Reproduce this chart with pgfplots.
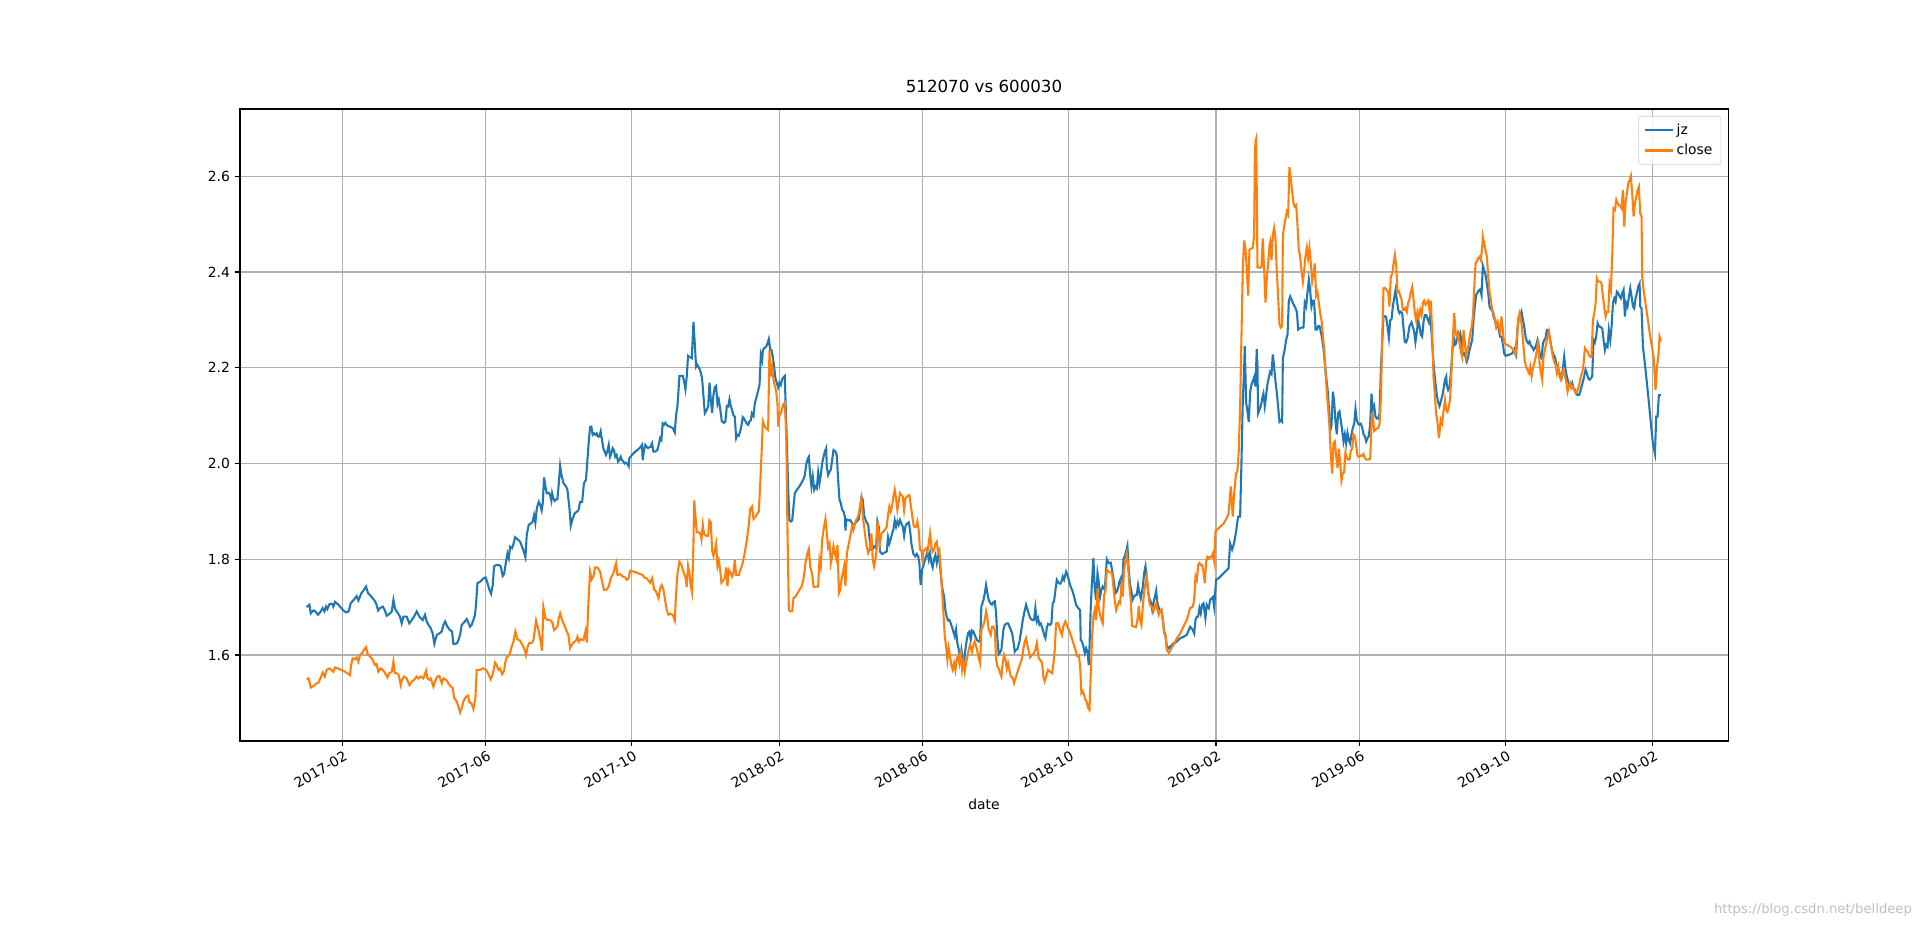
\documentclass[border=0pt]{standalone}
\usepackage{fontspec}
\setmainfont{DejaVu Sans}
\usepackage{pgfplots}
\pgfplotsset{compat=1.18}
\definecolor{mplblue}{HTML}{1F77B4}
\definecolor{mplorange}{HTML}{FF7F0E}
\definecolor{mplgrid}{HTML}{B0B0B0}

% x = days since 2017-01-01
\pgfplotstableread{
day jz
1.2 1.700
3.5 1.705
4.6 1.687
6.8 1.693
8.5 1.691
10.7 1.684
13.0 1.691
14.6 1.698
16.0 1.691
17.4 1.701
18.5 1.696
20.2 1.706
22.4 1.707
23.5 1.701
24.9 1.711
27.7 1.705
31.9 1.693
34.1 1.689
36.3 1.691
38.0 1.708
40.8 1.716
43.0 1.723
44.4 1.714
46.9 1.729
49.1 1.736
50.8 1.743
52.5 1.729
54.2 1.725
57.5 1.715
59.2 1.708
60.9 1.693
62.5 1.698
64.8 1.701
66.4 1.694
68.1 1.682
70.9 1.687
72.3 1.691
73.7 1.715
75.1 1.696
77.0 1.689
79.2 1.680
80.6 1.666
82.0 1.680
84.8 1.680
87.0 1.666
89.0 1.673
90.9 1.680
93.2 1.691
95.4 1.680
98.2 1.673
100.1 1.684
101.5 1.670
102.9 1.663
104.9 1.656
106.5 1.645
107.9 1.623
109.9 1.642
112.1 1.645
114.1 1.649
115.5 1.663
116.9 1.670
118.8 1.659
121.0 1.652
122.7 1.649
123.8 1.623
126.6 1.624
128.0 1.631
129.4 1.642
130.8 1.663
132.7 1.668
135.0 1.675
137.7 1.659
139.1 1.663
140.5 1.673
141.9 1.684
142.8 1.708
143.9 1.750
146.1 1.753
148.9 1.760
150.8 1.762
152.2 1.751
153.9 1.736
155.3 1.728
156.7 1.746
157.8 1.785
159.5 1.788
161.7 1.788
163.4 1.785
165.0 1.765
166.2 1.769
167.8 1.795
169.0 1.812
170.1 1.802
171.2 1.826
172.8 1.823
174.0 1.832
175.4 1.846
177.3 1.842
179.5 1.837
181.2 1.826
182.3 1.819
184.0 1.804
185.1 1.851
186.8 1.872
188.4 1.874
190.1 1.879
191.2 1.892
192.3 1.876
193.5 1.906
195.1 1.920
196.2 1.915
197.6 1.902
198.5 1.918
199.6 1.971
200.7 1.952
201.8 1.938
203.5 1.939
204.6 1.934
205.7 1.922
206.3 1.938
207.4 1.927
208.5 1.922
209.6 1.925
210.7 1.925
211.9 1.959
213.0 1.995
214.1 1.976
215.8 1.959
218.0 1.952
219.1 1.945
220.8 1.906
221.9 1.870
223.6 1.886
225.2 1.896
226.9 1.899
228.3 1.902
229.7 1.920
231.4 1.920
232.9 1.959
234.6 1.966
235.7 2.004
236.8 2.042
238.0 2.076
239.1 2.077
240.2 2.060
241.3 2.063
242.4 2.060
243.5 2.063
244.6 2.056
245.8 2.056
246.9 2.067
248.0 2.049
249.1 2.032
250.2 2.025
251.3 2.018
252.4 2.025
253.6 2.039
254.7 2.014
255.8 2.021
256.9 2.032
258.0 2.028
259.1 2.014
260.2 2.018
261.4 2.004
262.5 2.007
263.6 2.014
264.7 2.007
265.8 2.004
266.9 2.000
268.0 2.002
269.2 1.999
270.3 1.994
270.8 2.011
271.9 2.014
273.1 2.018
274.2 2.021
275.8 2.025
277.5 2.028
279.2 2.032
280.3 2.035
281.4 2.039
282.0 2.007
283.1 2.028
284.2 2.039
285.3 2.035
286.4 2.032
287.5 2.034
288.7 2.035
289.8 2.042
290.9 2.025
292.6 2.025
294.2 2.028
295.4 2.039
296.5 2.053
297.6 2.049
298.7 2.084
299.8 2.081
300.9 2.085
302.0 2.081
303.2 2.078
304.9 2.077
307.1 2.074
308.8 2.065
309.9 2.101
311.0 2.119
312.7 2.183
315.5 2.183
316.6 2.171
317.7 2.155
318.8 2.182
319.9 2.225
321.6 2.222
323.0 2.220
324.4 2.296
325.5 2.251
326.6 2.202
327.7 2.206
330.0 2.195
331.6 2.178
332.8 2.140
333.9 2.105
335.5 2.112
336.7 2.119
337.8 2.169
338.9 2.133
340.0 2.106
341.1 2.143
342.2 2.159
343.3 2.162
344.5 2.124
345.6 2.133
346.7 2.115
348.1 2.088
350.0 2.085
351.1 2.088
352.3 2.120
353.4 2.119
354.5 2.134
355.6 2.120
356.7 2.112
357.8 2.101
358.9 2.098
360.1 2.053
361.2 2.060
362.3 2.058
363.4 2.067
364.5 2.079
365.6 2.097
366.7 2.094
367.9 2.088
369.0 2.083
370.1 2.081
371.2 2.088
372.3 2.090
373.2 2.105
374.6 2.099
375.7 2.126
376.8 2.136
377.9 2.147
379.6 2.164
380.7 2.227
381.8 2.216
382.4 2.237
383.5 2.241
385.1 2.244
386.3 2.251
387.4 2.260
388.5 2.237
389.6 2.237
390.7 2.223
391.8 2.202
392.9 2.178
394.1 2.168
395.2 2.159
396.3 2.169
397.4 2.164
398.5 2.176
399.6 2.180
400.7 2.183
401.3 2.133
402.4 2.049
403.5 1.952
404.6 1.882
405.8 1.879
406.9 1.881
408.0 1.910
409.1 1.938
410.8 1.945
412.4 1.950
413.6 1.955
415.2 1.962
416.3 1.967
417.5 1.976
418.6 1.997
419.7 2.009
420.8 2.014
421.9 1.978
423.0 1.952
424.1 1.973
425.3 1.945
426.4 1.952
427.5 1.948
428.6 1.981
429.7 1.959
430.8 1.976
431.9 2.000
433.1 2.014
434.2 2.025
435.3 2.032
435.8 1.994
436.9 1.976
438.1 1.983
439.2 1.987
440.3 2.008
441.4 2.028
443.1 2.025
444.2 2.016
445.3 1.966
446.4 1.925
447.5 1.917
448.7 1.903
449.8 1.900
450.9 1.889
451.4 1.860
452.0 1.884
453.7 1.881
455.3 1.882
457.0 1.875
458.1 1.863
459.2 1.874
460.9 1.879
462.6 1.884
463.7 1.907
464.8 1.930
465.9 1.924
467.0 1.891
468.7 1.879
470.4 1.872
472.5 1.820
474.2 1.821
475.3 1.827
477.0 1.823
478.1 1.879
479.2 1.868
480.3 1.816
482.0 1.811
484.2 1.814
485.9 1.816
487.0 1.846
488.1 1.833
489.2 1.842
490.3 1.853
491.5 1.863
492.6 1.881
493.7 1.868
494.8 1.879
495.9 1.872
497.0 1.882
498.1 1.875
499.3 1.868
500.4 1.849
501.5 1.868
502.6 1.874
504.3 1.877
505.4 1.861
506.5 1.833
508.2 1.811
509.8 1.806
511.0 1.811
512.1 1.807
513.2 1.792
513.7 1.765
514.3 1.746
515.4 1.778
516.5 1.786
518.2 1.802
519.9 1.814
521.0 1.799
522.1 1.813
523.2 1.792
524.3 1.783
525.4 1.800
526.6 1.809
527.7 1.792
528.8 1.806
529.9 1.799
531.0 1.771
532.1 1.743
533.8 1.722
534.9 1.694
536.0 1.680
537.2 1.672
538.3 1.673
539.4 1.666
541.1 1.653
542.7 1.639
543.8 1.653
544.9 1.625
546.1 1.611
547.2 1.593
548.3 1.611
549.4 1.590
550.5 1.584
551.6 1.611
552.8 1.632
553.9 1.646
555.0 1.649
556.1 1.632
557.2 1.651
558.3 1.649
559.4 1.642
561.1 1.632
562.8 1.628
563.9 1.628
565.0 1.701
566.7 1.715
567.8 1.728
568.9 1.746
570.0 1.729
571.1 1.715
572.8 1.707
573.9 1.705
575.0 1.710
576.2 1.712
577.3 1.687
578.4 1.632
579.5 1.602
580.6 1.605
581.7 1.611
583.4 1.653
584.5 1.663
586.2 1.666
587.3 1.666
589.0 1.656
590.6 1.646
591.8 1.628
592.9 1.607
594.0 1.611
595.1 1.612
596.8 1.628
598.4 1.653
599.6 1.673
600.7 1.687
602.3 1.705
604.0 1.691
605.7 1.677
607.4 1.673
609.0 1.673
610.1 1.698
611.3 1.670
612.4 1.677
613.5 1.663
614.6 1.666
616.3 1.653
617.4 1.642
618.5 1.635
619.6 1.656
620.7 1.665
622.4 1.663
623.5 1.666
624.6 1.708
625.7 1.712
626.9 1.736
628.0 1.757
629.7 1.750
630.8 1.749
631.9 1.753
633.0 1.764
634.1 1.757
635.8 1.774
636.9 1.767
638.0 1.757
639.1 1.746
640.8 1.736
642.5 1.722
644.1 1.705
645.8 1.698
647.5 1.694
648.0 1.631
649.1 1.628
650.3 1.617
651.4 1.604
652.5 1.614
653.6 1.607
654.7 1.579
655.3 1.614
656.4 1.701
657.5 1.757
658.6 1.802
659.7 1.739
660.9 1.715
662.0 1.771
663.1 1.753
664.2 1.722
665.3 1.736
666.4 1.743
668.1 1.736
669.8 1.800
671.4 1.792
673.1 1.793
674.2 1.778
675.3 1.760
677.0 1.729
678.1 1.732
679.2 1.739
680.3 1.753
681.5 1.760
682.6 1.732
683.7 1.800
684.8 1.807
685.9 1.816
687.0 1.828
688.1 1.778
689.3 1.746
690.4 1.732
691.5 1.716
692.6 1.722
693.7 1.725
694.8 1.725
695.9 1.746
697.1 1.729
698.2 1.718
699.9 1.743
701.0 1.771
702.1 1.785
703.2 1.760
704.3 1.732
705.4 1.718
706.5 1.711
707.7 1.694
708.8 1.709
709.9 1.721
711.0 1.734
712.1 1.708
713.2 1.698
714.3 1.693
715.5 1.694
716.6 1.673
717.7 1.649
718.8 1.642
719.9 1.619
721.6 1.614
723.3 1.619
725.5 1.624
728.3 1.628
731.1 1.635
733.8 1.638
736.6 1.642
739.4 1.659
740.5 1.656
741.6 1.652
742.8 1.645
743.9 1.673
745.0 1.680
746.1 1.680
747.2 1.698
748.3 1.687
749.4 1.705
750.6 1.708
752.2 1.677
753.3 1.705
755.0 1.698
756.1 1.715
757.2 1.718
758.4 1.721
759.5 1.701
760.0 1.718
761.1 1.757
763.1 1.760
765.9 1.767
768.7 1.774
771.5 1.781
772.8 1.833
774.5 1.820
776.2 1.834
777.8 1.858
779.5 1.889
781.2 1.889
782.3 2.001
783.4 2.128
784.5 2.195
785.1 2.245
786.2 2.128
787.3 2.109
788.4 2.087
789.6 2.150
790.7 2.165
791.8 2.172
792.9 2.180
794.0 2.161
795.1 2.239
795.7 2.202
796.2 2.105
797.4 2.113
798.5 2.120
799.6 2.135
800.7 2.146
801.8 2.120
802.9 2.142
804.0 2.165
805.2 2.180
806.3 2.191
807.4 2.187
808.5 2.228
809.6 2.202
810.7 2.172
811.8 2.150
812.9 2.120
814.1 2.087
815.2 2.090
816.3 2.087
816.9 2.220
818.5 2.239
819.6 2.258
820.8 2.269
821.9 2.340
823.0 2.349
824.1 2.343
825.2 2.336
826.3 2.330
827.4 2.325
828.6 2.317
829.7 2.280
830.8 2.282
832.5 2.284
834.1 2.284
835.2 2.336
836.4 2.328
837.5 2.358
838.6 2.384
839.7 2.362
840.8 2.328
841.9 2.340
843.0 2.340
844.2 2.280
845.3 2.280
846.4 2.287
847.5 2.287
848.6 2.276
849.7 2.261
850.9 2.239
852.0 2.209
853.1 2.180
854.2 2.157
855.3 2.120
856.4 2.068
857.5 2.079
858.7 2.150
859.8 2.128
860.9 2.087
862.0 2.061
863.1 2.105
864.2 2.109
865.3 2.090
866.5 2.068
867.6 2.046
868.7 2.061
869.8 2.042
870.9 2.064
872.0 2.049
873.1 2.042
874.3 2.061
875.4 2.075
876.5 2.083
877.6 2.114
878.7 2.090
879.8 2.083
880.9 2.081
882.1 2.083
883.2 2.075
884.3 2.061
885.4 2.057
886.5 2.046
887.6 2.053
888.7 2.057
889.9 2.083
891.0 2.146
892.1 2.113
893.2 2.120
894.3 2.098
895.4 2.094
896.5 2.094
897.7 2.105
898.8 2.195
899.9 2.254
901.0 2.308
902.1 2.308
903.2 2.306
904.3 2.287
905.5 2.263
906.6 2.299
907.7 2.302
908.8 2.328
909.9 2.345
911.0 2.362
912.1 2.343
913.3 2.321
914.4 2.314
915.5 2.317
916.6 2.314
917.7 2.284
918.8 2.254
919.9 2.253
921.1 2.261
922.7 2.287
924.4 2.295
925.5 2.285
926.6 2.276
927.7 2.254
928.9 2.276
930.0 2.299
931.1 2.287
932.2 2.269
933.3 2.265
934.4 2.295
935.5 2.310
936.7 2.310
937.8 2.302
938.9 2.295
940.0 2.308
941.1 2.273
942.2 2.232
943.3 2.195
944.5 2.165
945.6 2.142
946.7 2.128
947.8 2.120
950.0 2.140
951.1 2.154
952.3 2.175
953.4 2.182
953.9 2.164
955.0 2.154
956.2 2.161
957.3 2.189
958.4 2.230
959.5 2.265
960.6 2.248
961.7 2.251
962.8 2.272
964.0 2.265
965.1 2.272
966.2 2.251
967.3 2.227
968.4 2.230
969.5 2.223
970.6 2.213
971.8 2.223
972.9 2.237
974.0 2.248
975.1 2.258
976.2 2.300
977.3 2.328
978.4 2.352
979.6 2.357
980.7 2.362
981.8 2.364
982.9 2.352
984.0 2.413
985.1 2.404
986.2 2.394
987.4 2.376
988.5 2.356
989.6 2.328
990.7 2.322
991.8 2.321
992.9 2.307
994.0 2.300
995.2 2.286
996.3 2.293
997.4 2.279
998.5 2.265
999.6 2.265
1000.7 2.251
1001.8 2.230
1003.0 2.225
1005.7 2.227
1008.5 2.230
1010.8 2.241
1011.9 2.230
1013.0 2.279
1014.1 2.307
1015.2 2.308
1016.3 2.317
1017.5 2.300
1018.6 2.286
1019.7 2.265
1020.8 2.255
1021.9 2.251
1023.0 2.255
1024.1 2.246
1025.3 2.244
1026.4 2.237
1027.5 2.241
1028.6 2.248
1029.7 2.258
1030.8 2.244
1031.9 2.223
1033.1 2.220
1034.2 2.251
1035.3 2.258
1036.4 2.262
1037.5 2.279
1038.6 2.279
1039.7 2.265
1040.9 2.248
1042.0 2.234
1043.1 2.227
1044.2 2.223
1045.3 2.209
1046.4 2.199
1047.5 2.196
1048.7 2.182
1049.8 2.178
1050.9 2.199
1052.0 2.223
1053.1 2.196
1054.2 2.182
1055.3 2.171
1056.5 2.164
1057.6 2.161
1058.7 2.168
1059.8 2.157
1060.9 2.154
1062.0 2.147
1063.1 2.143
1064.3 2.143
1065.4 2.150
1066.5 2.161
1067.6 2.171
1068.7 2.182
1069.8 2.196
1070.9 2.189
1072.1 2.178
1073.2 2.175
1074.3 2.178
1075.4 2.182
1076.5 2.258
1077.6 2.253
1078.7 2.265
1079.9 2.293
1081.0 2.286
1082.1 2.286
1083.8 2.282
1084.9 2.258
1086.0 2.237
1087.1 2.248
1088.2 2.244
1089.3 2.279
1090.5 2.258
1091.6 2.286
1092.7 2.335
1093.8 2.345
1094.9 2.338
1096.0 2.359
1097.1 2.356
1098.3 2.349
1099.4 2.345
1100.5 2.356
1101.6 2.363
1102.7 2.307
1103.8 2.335
1104.9 2.328
1106.1 2.349
1107.2 2.366
1108.3 2.349
1109.4 2.328
1110.5 2.324
1111.6 2.345
1112.7 2.356
1113.9 2.370
1115.0 2.376
1115.5 2.328
1116.6 2.324
1117.8 2.244
1119.4 2.209
1121.1 2.168
1122.8 2.126
1124.4 2.084
1126.1 2.042
1127.8 2.021
1128.9 2.098
1130.0 2.098
1131.1 2.143
1132.8 2.143
}\jzdata

\pgfplotstableread{
day close
1.2 1.549
2.9 1.551
4.6 1.532
6.8 1.535
9.0 1.540
11.0 1.542
13.0 1.553
14.6 1.563
16.3 1.555
18.0 1.569
20.2 1.572
21.8 1.569
23.5 1.565
24.9 1.574
29.1 1.570
33.3 1.565
37.4 1.558
38.3 1.579
39.7 1.593
41.6 1.591
43.0 1.595
44.4 1.586
45.8 1.600
48.0 1.605
49.1 1.611
50.8 1.616
52.2 1.602
54.2 1.597
56.4 1.590
58.1 1.579
59.7 1.581
61.1 1.565
63.1 1.572
64.8 1.569
66.7 1.562
68.7 1.553
70.3 1.562
72.3 1.565
73.7 1.586
74.8 1.562
76.4 1.562
78.1 1.558
79.8 1.537
80.9 1.548
82.6 1.555
84.8 1.551
87.0 1.537
89.0 1.544
90.9 1.548
93.2 1.555
94.6 1.551
96.5 1.555
98.7 1.551
101.0 1.567
102.1 1.551
103.8 1.548
104.9 1.551
107.1 1.534
108.8 1.547
110.4 1.555
112.1 1.556
114.1 1.541
115.5 1.551
117.7 1.548
119.6 1.541
121.6 1.534
123.3 1.531
124.4 1.510
126.6 1.503
128.0 1.492
129.4 1.480
131.1 1.492
132.2 1.503
134.4 1.513
136.1 1.515
137.2 1.501
138.9 1.499
140.5 1.487
142.2 1.510
143.3 1.569
146.1 1.569
148.3 1.572
151.1 1.569
153.1 1.560
155.0 1.549
156.7 1.560
158.6 1.584
160.0 1.579
161.4 1.569
162.8 1.572
164.5 1.560
166.2 1.567
167.0 1.583
168.4 1.595
170.6 1.600
172.6 1.618
174.0 1.628
175.6 1.649
177.3 1.633
179.5 1.630
181.8 1.619
183.7 1.609
184.5 1.600
185.9 1.618
187.3 1.625
189.3 1.625
190.7 1.631
192.9 1.672
194.9 1.652
196.8 1.628
197.9 1.609
199.0 1.700
200.7 1.677
202.4 1.673
204.0 1.673
205.7 1.671
206.8 1.665
207.9 1.652
209.6 1.656
210.7 1.659
211.9 1.677
213.0 1.687
214.4 1.675
215.8 1.666
217.1 1.659
218.5 1.649
219.9 1.642
221.3 1.614
222.7 1.621
224.1 1.626
226.3 1.630
227.5 1.638
228.6 1.628
230.2 1.633
232.5 1.631
234.1 1.649
235.3 1.626
236.6 1.708
238.0 1.774
239.4 1.758
240.8 1.764
242.2 1.783
244.2 1.783
246.4 1.774
248.1 1.753
249.7 1.736
252.0 1.737
253.6 1.743
255.3 1.760
257.5 1.771
259.8 1.792
260.9 1.767
263.1 1.769
265.3 1.764
267.3 1.762
268.7 1.757
270.1 1.760
271.5 1.776
274.3 1.774
277.0 1.772
279.8 1.769
282.1 1.767
283.2 1.762
285.4 1.760
288.2 1.751
289.9 1.760
291.5 1.737
293.2 1.732
295.2 1.719
296.5 1.739
297.9 1.746
299.3 1.737
300.7 1.715
302.1 1.694
303.5 1.684
304.9 1.686
307.1 1.684
308.8 1.672
309.9 1.729
311.0 1.769
312.7 1.795
314.4 1.788
316.0 1.774
317.7 1.763
318.8 1.742
319.9 1.786
321.1 1.771
322.2 1.744
323.3 1.730
324.4 1.833
325.0 1.923
326.1 1.889
327.2 1.856
329.4 1.856
330.5 1.851
331.1 1.842
332.2 1.872
333.3 1.853
335.0 1.849
336.7 1.849
337.8 1.881
338.9 1.877
340.0 1.818
341.1 1.807
342.2 1.818
343.3 1.832
344.5 1.785
345.6 1.797
346.7 1.778
347.8 1.751
349.5 1.757
350.6 1.760
351.7 1.783
352.8 1.744
353.9 1.778
355.0 1.774
356.7 1.764
357.8 1.771
358.9 1.799
360.1 1.767
362.3 1.767
363.4 1.776
365.1 1.788
366.7 1.806
367.9 1.823
369.0 1.840
370.7 1.874
371.8 1.905
373.4 1.910
374.6 1.884
376.2 1.889
377.9 1.896
379.0 1.900
380.1 1.952
381.2 2.014
382.4 2.088
384.0 2.077
385.7 2.072
386.8 2.070
387.9 2.237
389.0 2.182
390.2 2.202
391.3 2.175
392.4 2.162
393.5 2.152
394.6 2.126
395.2 2.077
396.3 2.101
397.4 2.105
398.5 2.115
399.6 2.124
400.7 2.127
401.9 2.063
403.0 1.854
404.1 1.694
405.2 1.691
406.9 1.691
408.0 1.719
409.7 1.722
411.3 1.729
413.0 1.736
414.7 1.743
416.3 1.757
418.0 1.792
419.7 1.813
420.8 1.821
421.9 1.785
423.6 1.769
424.7 1.743
425.8 1.742
427.5 1.743
428.6 1.743
429.7 1.799
430.8 1.785
431.9 1.840
433.1 1.861
434.7 1.884
435.8 1.854
436.9 1.825
438.1 1.833
439.2 1.792
440.3 1.806
441.4 1.827
442.5 1.813
443.6 1.802
444.8 1.830
445.9 1.729
447.0 1.736
448.1 1.757
449.2 1.771
450.3 1.785
451.4 1.744
452.6 1.813
453.7 1.827
454.8 1.840
455.9 1.854
457.0 1.870
458.1 1.863
459.2 1.875
460.4 1.882
461.5 1.886
462.6 1.896
463.7 1.911
464.8 1.927
465.9 1.889
467.0 1.868
468.1 1.846
469.2 1.827
470.4 1.813
472.0 1.823
473.1 1.854
474.2 1.799
475.3 1.785
476.4 1.799
477.5 1.820
478.1 1.879
479.2 1.858
480.3 1.833
481.4 1.854
483.1 1.858
484.8 1.863
485.9 1.868
487.0 1.893
488.1 1.910
489.2 1.900
490.3 1.910
491.5 1.931
492.6 1.945
493.7 1.927
494.8 1.903
495.9 1.920
497.0 1.938
498.1 1.934
499.3 1.931
500.4 1.903
501.5 1.927
503.2 1.932
504.8 1.934
505.9 1.914
507.1 1.893
508.2 1.872
509.3 1.867
510.4 1.868
511.5 1.879
512.6 1.861
513.7 1.820
514.9 1.818
516.0 1.792
516.5 1.816
517.6 1.820
518.8 1.823
519.9 1.816
521.0 1.833
522.1 1.854
523.2 1.827
524.3 1.816
525.4 1.820
526.6 1.833
527.7 1.837
528.8 1.814
529.9 1.820
531.0 1.778
532.1 1.736
533.3 1.687
534.4 1.639
535.5 1.618
536.6 1.590
537.7 1.614
538.8 1.597
539.9 1.579
541.1 1.569
542.2 1.583
543.3 1.568
544.4 1.593
545.5 1.597
546.6 1.583
547.7 1.611
548.9 1.569
550.0 1.586
551.1 1.565
552.2 1.583
553.3 1.597
554.4 1.611
555.5 1.621
557.2 1.607
558.3 1.621
559.4 1.628
561.1 1.614
562.8 1.593
563.9 1.583
565.0 1.653
566.7 1.663
567.8 1.673
568.9 1.691
570.0 1.677
571.1 1.653
572.8 1.642
573.9 1.659
575.0 1.659
576.2 1.653
577.3 1.590
578.4 1.576
579.5 1.572
580.6 1.562
581.7 1.555
582.8 1.583
583.9 1.600
585.1 1.590
586.2 1.572
587.3 1.583
588.4 1.569
589.5 1.555
591.2 1.552
592.3 1.541
594.0 1.555
595.7 1.569
597.3 1.581
599.0 1.593
600.1 1.614
601.2 1.628
602.3 1.635
604.0 1.614
605.7 1.595
607.4 1.600
609.0 1.604
610.1 1.611
611.3 1.625
612.9 1.593
614.0 1.590
615.7 1.583
616.8 1.555
617.9 1.545
619.1 1.555
620.7 1.569
622.4 1.565
624.1 1.562
625.2 1.583
626.3 1.611
627.4 1.666
629.1 1.667
630.8 1.652
632.4 1.642
633.5 1.661
635.2 1.670
636.9 1.659
638.6 1.649
640.2 1.638
641.9 1.624
643.6 1.611
644.7 1.598
646.4 1.600
647.5 1.576
648.6 1.520
649.7 1.524
650.8 1.517
651.9 1.506
653.0 1.503
654.2 1.489
655.3 1.485
656.4 1.562
657.5 1.638
658.6 1.680
659.7 1.694
660.9 1.673
662.0 1.739
663.1 1.698
664.2 1.684
665.3 1.673
666.4 1.666
667.5 1.725
668.6 1.732
669.8 1.778
671.4 1.774
673.1 1.772
674.2 1.771
675.3 1.743
676.4 1.715
677.6 1.694
678.7 1.702
679.8 1.711
680.9 1.708
682.0 1.743
683.1 1.722
684.2 1.778
685.4 1.798
686.5 1.812
687.6 1.785
688.7 1.743
689.8 1.715
690.9 1.661
692.6 1.659
694.3 1.659
695.4 1.673
696.5 1.702
697.6 1.673
698.7 1.663
699.9 1.701
701.0 1.732
702.1 1.750
703.2 1.764
704.3 1.736
705.4 1.708
706.5 1.702
707.7 1.700
708.8 1.691
709.9 1.700
711.0 1.708
712.1 1.694
713.2 1.684
714.3 1.691
715.5 1.695
716.6 1.673
717.7 1.645
718.8 1.642
719.9 1.611
721.6 1.604
722.7 1.609
725.5 1.621
728.3 1.635
731.1 1.645
733.8 1.659
736.6 1.673
739.4 1.698
741.6 1.701
742.8 1.715
743.9 1.764
745.0 1.757
746.1 1.788
747.2 1.792
748.3 1.788
749.4 1.788
750.6 1.774
751.7 1.750
752.8 1.795
753.9 1.805
755.0 1.802
756.1 1.805
757.2 1.804
758.4 1.812
759.5 1.797
760.6 1.858
761.7 1.861
764.5 1.868
767.3 1.874
771.4 1.893
773.4 1.952
775.0 1.889
776.2 1.938
777.8 1.980
778.9 1.983
780.1 2.028
781.2 2.119
782.3 2.265
783.4 2.403
784.5 2.466
785.7 2.447
786.8 2.403
787.9 2.351
789.0 2.447
790.7 2.449
791.8 2.451
792.9 2.477
793.5 2.641
794.0 2.672
794.6 2.678
795.1 2.567
795.7 2.410
797.4 2.409
799.0 2.410
800.1 2.470
801.3 2.403
802.4 2.336
803.5 2.388
804.6 2.418
805.7 2.455
806.3 2.462
807.4 2.425
808.5 2.477
809.6 2.492
810.7 2.470
811.8 2.403
812.9 2.351
814.1 2.291
815.2 2.284
816.3 2.287
816.9 2.477
818.0 2.496
819.1 2.511
820.2 2.526
821.3 2.520
822.4 2.619
823.5 2.596
824.7 2.567
825.8 2.544
826.9 2.537
828.0 2.540
829.1 2.500
830.2 2.447
831.3 2.433
832.5 2.403
833.6 2.380
834.7 2.403
835.8 2.433
836.9 2.451
838.0 2.429
839.1 2.451
840.3 2.418
841.4 2.380
842.5 2.395
843.6 2.418
844.7 2.351
845.8 2.358
846.9 2.336
848.1 2.314
849.2 2.299
850.3 2.269
851.4 2.239
852.5 2.194
853.6 2.150
854.8 2.113
855.9 2.075
857.0 2.016
858.1 1.979
859.2 2.042
860.3 2.046
861.4 2.016
862.6 1.990
863.7 2.031
864.8 2.001
865.9 1.965
867.0 1.979
868.1 1.982
869.2 2.023
870.4 2.012
871.5 2.008
872.6 2.008
873.7 2.027
874.8 2.031
875.9 2.061
877.0 2.057
878.2 2.038
879.3 2.016
880.4 2.014
882.1 2.017
883.2 2.016
884.3 2.020
885.4 2.012
886.5 2.008
888.2 2.008
889.9 2.010
891.0 2.090
892.1 2.101
893.2 2.068
894.9 2.072
896.5 2.074
897.7 2.083
898.8 2.135
899.9 2.254
901.0 2.366
902.1 2.367
903.8 2.362
904.9 2.358
906.0 2.328
907.1 2.392
908.2 2.395
909.4 2.418
910.5 2.436
911.6 2.414
912.7 2.358
913.8 2.360
914.9 2.351
916.0 2.343
917.2 2.321
918.3 2.321
919.4 2.325
920.5 2.317
921.6 2.336
922.7 2.343
923.8 2.358
925.0 2.369
926.1 2.343
927.2 2.314
928.3 2.299
929.4 2.317
930.5 2.306
931.6 2.321
932.8 2.310
933.9 2.336
935.0 2.340
936.1 2.332
937.2 2.336
938.3 2.340
939.4 2.321
940.6 2.340
941.7 2.269
942.8 2.180
943.9 2.142
945.0 2.105
946.1 2.087
947.3 2.053
948.9 2.091
950.0 2.084
951.1 2.108
952.3 2.133
953.4 2.112
954.5 2.108
955.6 2.119
956.7 2.136
957.8 2.195
958.9 2.258
960.1 2.314
961.2 2.272
962.3 2.265
963.4 2.272
964.5 2.251
965.6 2.234
966.7 2.223
967.9 2.279
969.0 2.251
970.1 2.223
971.2 2.237
972.3 2.251
973.4 2.272
974.5 2.283
975.7 2.307
976.8 2.366
977.9 2.418
979.0 2.422
980.1 2.429
981.2 2.432
982.3 2.425
983.5 2.453
984.0 2.474
985.1 2.460
986.2 2.446
987.4 2.432
988.5 2.390
989.6 2.359
990.7 2.342
991.8 2.321
992.9 2.314
994.0 2.303
995.2 2.286
996.3 2.296
997.4 2.286
998.5 2.276
999.6 2.307
1000.7 2.279
1001.8 2.251
1004.1 2.248
1006.9 2.244
1009.7 2.237
1011.3 2.227
1012.4 2.265
1013.5 2.300
1014.7 2.314
1015.8 2.303
1016.9 2.279
1018.0 2.244
1019.1 2.213
1020.2 2.202
1021.4 2.195
1022.5 2.189
1023.6 2.202
1024.7 2.182
1025.8 2.199
1026.9 2.209
1028.0 2.220
1029.2 2.237
1030.3 2.258
1031.4 2.209
1032.5 2.189
1033.6 2.175
1034.7 2.223
1035.8 2.237
1037.0 2.251
1038.1 2.265
1039.2 2.276
1040.3 2.258
1041.4 2.241
1042.5 2.223
1043.6 2.213
1044.8 2.206
1045.9 2.189
1047.0 2.202
1048.1 2.182
1049.2 2.175
1050.3 2.189
1051.4 2.196
1052.6 2.182
1053.7 2.171
1054.8 2.150
1055.9 2.161
1057.0 2.168
1058.1 2.157
1059.2 2.161
1060.4 2.154
1061.5 2.147
1062.6 2.150
1063.7 2.157
1064.8 2.168
1065.9 2.182
1067.0 2.189
1068.2 2.209
1069.3 2.241
1070.4 2.237
1071.5 2.234
1072.6 2.227
1073.7 2.223
1074.8 2.223
1076.0 2.300
1077.1 2.314
1078.2 2.335
1079.3 2.387
1080.4 2.380
1082.1 2.380
1083.2 2.376
1084.3 2.349
1085.4 2.328
1086.6 2.307
1087.7 2.317
1088.8 2.317
1089.9 2.376
1091.0 2.363
1092.1 2.432
1093.2 2.533
1094.4 2.530
1095.5 2.551
1096.6 2.544
1097.7 2.540
1098.8 2.537
1099.9 2.533
1101.0 2.571
1102.2 2.495
1103.3 2.547
1104.4 2.564
1105.5 2.585
1106.6 2.592
1107.7 2.601
1108.8 2.564
1110.0 2.516
1111.1 2.544
1112.2 2.557
1113.3 2.571
1114.4 2.578
1115.5 2.523
1116.6 2.516
1117.2 2.390
1118.3 2.363
1121.1 2.314
1123.9 2.265
1126.7 2.223
1128.3 2.154
1129.5 2.202
1130.6 2.223
1131.7 2.265
1132.8 2.255
}\closedata

\begin{document}
\begin{tikzpicture}
\begin{axis}[
    name=ax,
    at={(0pt,0pt)}, anchor=south west,
    scale only axis,
    width=1071.4pt, height=455pt,
    xmin=-54.5, xmax=1188.9,
    ymin=1.4203, ymax=2.7406,
    axis line style={black, line width=0.8pt},
    tick align=outside,
    tick pos=left,
    major tick length=3.5pt,
    every tick/.style={black, line width=0.8pt},
    xtick={31,151,273,396,516,638,761,881,1003,1126},
    xticklabels={2017-02,2017-06,2017-10,2018-02,2018-06,2018-10,2019-02,2019-06,2019-10,2020-02},
    ytick={1.6,1.8,2.0,2.2,2.4,2.6},
    yticklabels={1.6,1.8,2.0,2.2,2.4,2.6},
    xticklabel style={rotate=30, anchor=north east, inner sep=0pt, yshift=-3pt, xshift=-1pt, font=\fontsize{10}{12}\selectfont},
    yticklabel style={anchor=east, inner sep=0pt, xshift=-3.5pt, font=\fontsize{10}{12}\selectfont},
    xmajorgrids, ymajorgrids,
    major grid style={mplgrid, line width=0.8pt},
    xlabel={date},
    xlabel style={at={(axis description cs:0.5,0)}, anchor=center, yshift=-45.4pt, font=\fontsize{10}{12}\selectfont},
    title={512070 vs 600030},
    title style={at={(axis description cs:0.5,1)}, anchor=base, yshift=6pt, font=\fontsize{12}{14}\selectfont},
    legend style={at={(axis description cs:1,1)}, anchor=north east, xshift=-5pt, yshift=-5pt,
        draw=black!20, rounded corners=2pt, fill=white, fill opacity=0.8, text opacity=1,
        font=\fontsize{10}{12}\selectfont, inner xsep=4pt, inner ysep=3.5pt, row sep=1.5pt},
    legend cell align=left,
    legend image code/.code={\draw[#1] (0pt,0pt) -- (20pt,0pt);},
]
\addplot[mplblue, line width=1.5pt] table[x=day, y=jz] {\jzdata};
\addlegendentry{jz}
\addplot[mplorange, line width=1.5pt] table[x=day, y=close] {\closedata};
\addlegendentry{close}
\end{axis}
\node[anchor=east, text=black!25, font=\fontsize{9.5}{11}\selectfont, inner sep=0pt] at (1204pt,-121.7pt) {https://blog.csdn.net/belldeep};
\pgfresetboundingbox
\path[use as bounding box] (-172.8pt,-133.9pt) rectangle (1209.6pt,533.5pt);
\end{tikzpicture}
\end{document}
